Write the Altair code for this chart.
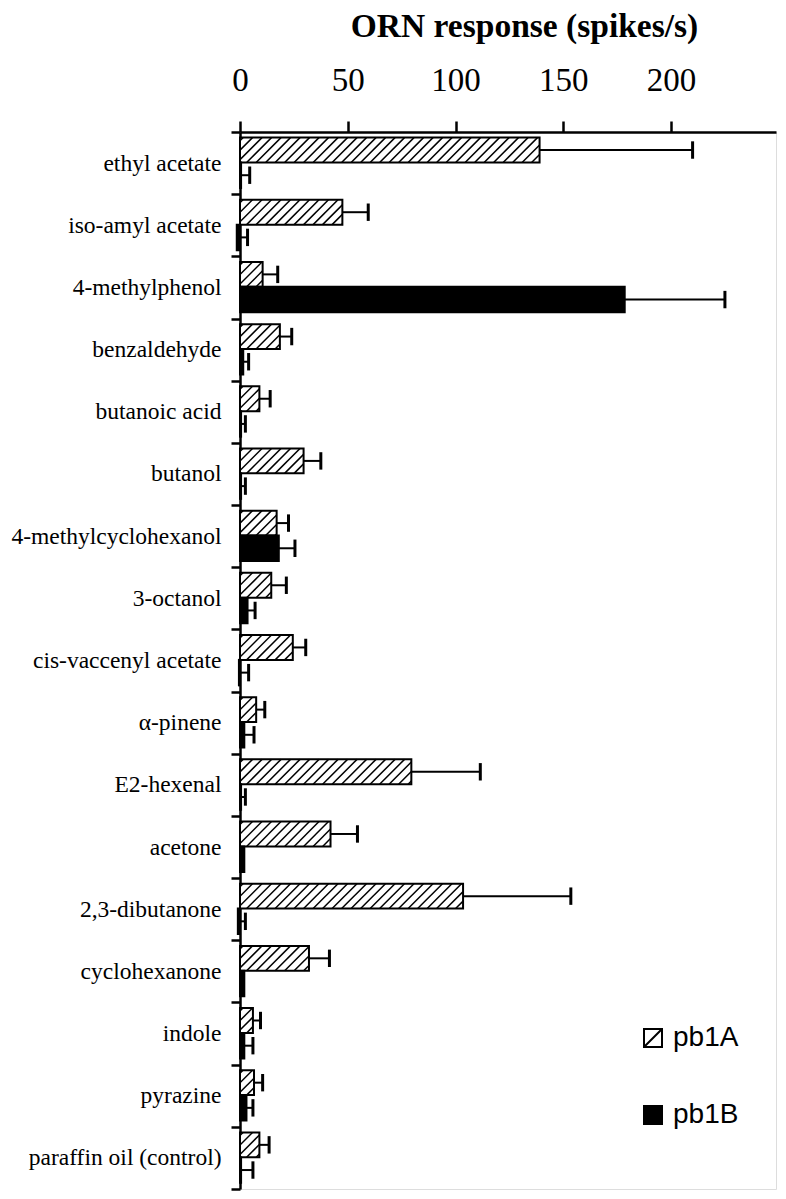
import json
import altair as alt
import pandas as pd

# ---------------- data ----------------
categories = ["ethyl acetate", "iso-amyl acetate", "4-methylphenol", "benzaldehyde",
              "butanoic acid", "butanol", "4-methylcyclohexanol", "3-octanol",
              "cis-vaccenyl acetate", "α-pinene", "E2-hexenal", "acetone",
              "2,3-dibutanone", "cyclohexanone", "indole", "pyrazine",
              "paraffin oil (control)"]
pb1A = [139, 47.5, 10.5, 18.5, 9, 29.5, 17, 14.5, 24.5, 7.5, 79.5, 42, 103.5, 32, 6, 6.5, 9]
pb1A_err = [71, 12, 7, 5.5, 5, 8, 5.5, 7, 6, 4, 32, 12.5, 50, 9.5, 3.5, 4, 4.5]
pb1B = [0.5, -1.5, 178.5, 1.5, 0.5, 0.5, 18, 3.5, -0.5, 2, 0.5, 2, -1, 2, 2, 3, 0.5]
pb1B_err = [4, 5, 46.5, 2.5, 2, 2, 7.5, 3.5, 4.5, 4.5, 2, 0, 3.5, 0, 4, 3, 5.5]
series_names = ["pb1A", "pb1B"]
x_ticks = [0, 50, 100, 150, 200]

# ---------------- layout / style constants ----------------
W, H = 536, 1057
XMAX = 248.7
NROW = len(categories)
PX_X = W / XMAX
PX_Y = H / NROW
A_TOP, A_BOT = 0.09, 0.49
B_TOP, B_BOT = 0.49, 0.90
CAP = 0.14
HATCH_SP = 9.5      # px between hatch lines
HATCH_SLANT = 1.0   # horizontal extent / bar height

# ---------------- derived tables ----------------
bars, errs = [], []
for i, cat in enumerate(categories):
    for s, vals, ers, top, bot in (("pb1A", pb1A, pb1A_err, A_TOP, A_BOT),
                                    ("pb1B", pb1B, pb1B_err, B_TOP, B_BOT)):
        v, e = vals[i], ers[i]
        bars.append(dict(cat=cat, series=s, v=v, base=0, yt=i + top, yb=i + bot))
        if e > 0:
            c = i + (top + bot) / 2
            errs.append(dict(series=s, v=v, ve=v + e, yc=c, ylo=c - CAP, yhi=c + CAP))
bars_df = pd.DataFrame(bars)
errs_df = pd.DataFrame(errs)

hatch = []
h_px = (A_BOT - A_TOP) * PX_Y
dx_px = h_px * HATCH_SLANT
for i, v in enumerate(pb1A):
    vpx = v * PX_X
    x0 = -dx_px + 3
    while x0 < vpx:
        t0 = max(0.0, -x0 / dx_px)
        t1 = min(1.0, (vpx - x0) / dx_px)
        if t1 > t0:
            hatch.append(dict(
                hx=(x0 + t0 * dx_px) / PX_X, hx2=(x0 + t1 * dx_px) / PX_X,
                hy=i + A_BOT - t0 * (A_BOT - A_TOP), hy2=i + A_BOT - t1 * (A_BOT - A_TOP)))
        x0 += HATCH_SP
hatch_df = pd.DataFrame(hatch)

# ---------------- scales & axes ----------------
xscale = alt.Scale(domain=[0, XMAX], nice=False, zero=False)
yscale = alt.Scale(domain=[0, NROW], reverse=True, nice=False, zero=False)

cats_js = json.dumps(categories, ensure_ascii=False)
xaxis = alt.Axis(orient="top", values=x_ticks, title="ORN response (spikes/s)",
                 labelFont="Liberation Serif", labelFontSize=33, labelColor="black",
                 labelBaseline="alphabetic", labelPadding=31, tickSize=11, tickWidth=2.5,
                 tickColor="black", domainColor="black", domainWidth=2.5, grid=False,
                 titleFont="Liberation Serif", titleFontSize=33.5, titleFontWeight="bold",
                 titleColor="black", titleX=284, titleY=-96, titleAlign="center",
                 titleBaseline="alphabetic", labelFlush=False)
yaxis = alt.Axis(values=[k * 0.5 for k in range(0, 2 * NROW + 1)], title=None,
                 labelExpr=f"datum.value % 1 === 0.5 ? {cats_js}[floor(datum.value)] : ''",
                 labelFont="Liberation Serif", labelFontSize=23.5, labelColor="black",
                 labelLimit=400, labelPadding=10, tickSize=9, tickWidth=2.5, tickColor="black",
                 tickOpacity={"condition": {"test": "datum.value % 1 === 0.5", "value": 0}, "value": 1},
                 domainColor="black", domainWidth=2.5, grid=False)

X = lambda f: alt.X(f, type="quantitative", scale=xscale, axis=xaxis, title="ORN response (spikes/s)")
Y = lambda f: alt.Y(f, type="quantitative", scale=yscale, axis=yaxis, title=None)

bar_layer = alt.Chart(bars_df).mark_bar(stroke="black", strokeWidth=2).encode(
    x=X("v"), x2="base:Q", y=Y("yt"), y2="yb:Q",
    fill=alt.Fill("series:N", scale=alt.Scale(domain=series_names, range=["white", "black"]),
                  legend=alt.Legend(title=None, orient="none", legendX=399, legendY=892,
                                    direction="vertical",
                                    symbolType="M-1,-1H1V1H-1ZM-1,1L1,-1",
                                    symbolSize=324, symbolStrokeColor="black",
                                    symbolStrokeWidth=2, labelFont="Liberation Sans",
                                    labelFontSize=28, labelColor="black", labelOffset=6,
                                    rowPadding=49, padding=0)),
)

hatch_layer = alt.Chart(hatch_df).mark_rule(stroke="black", strokeWidth=1.5).encode(
    x=X("hx"), x2="hx2:Q", y=Y("hy"), y2="hy2:Q")

whisker = alt.Chart(errs_df).mark_rule(stroke="black", strokeWidth=2).encode(
    x=X("v"), x2="ve:Q", y=Y("yc"))

caps = alt.Chart(errs_df).mark_rule(stroke="black", strokeWidth=3).encode(
    x=X("ve"), y=Y("ylo"), y2="yhi:Q")

chart = alt.layer(bar_layer, hatch_layer, whisker, caps).properties(
    width=W, height=H,
    autosize=alt.AutoSizeParams(type="none"),
    padding={"left": 232, "top": 124, "right": 2, "bottom": 2},
).configure_view(stroke="black", strokeWidth=2.5).configure(background="white")

chart.save("out.html", embed_options={"renderer": "svg", "actions": False})
